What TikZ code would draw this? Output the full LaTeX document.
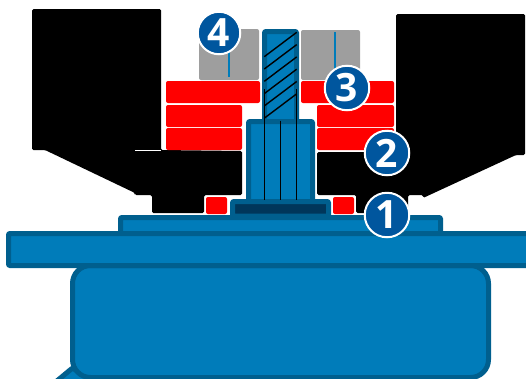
\documentclass[tikz,border=0pt]{standalone}
\usepackage{fontspec}
\setmainfont{Open Sans}
\definecolor{bluefill}{HTML}{007CBA}
\definecolor{blueedge}{HTML}{005F8E}
\definecolor{bluedark}{HTML}{00365A}
\definecolor{badgeblue}{HTML}{00569E}
\definecolor{greyblock}{HTML}{9E9E9E}
\definecolor{redblock}{HTML}{FF0000}
\tikzset{
  part/.style={draw=blueedge,fill=bluefill,line width=5pt,line join=round,rounded corners=1pt},
  blackpart/.style={fill=black,rounded corners=1.5pt},
  redpart/.style={fill=redblock,rounded corners=2pt},
  greypart/.style={fill=greyblock,rounded corners=2pt},
  inkline/.style={draw=black,line width=1.4pt},
  badge/.style={circle,draw=white,line width=2pt,fill=badgeblue,text=white,inner sep=0pt,font=\fontsize{39}{39}\bfseries\selectfont},
}
\begin{document}
\begin{tikzpicture}[x=1pt,y=-1pt]
\useasboundingbox (0,0) rectangle (526,378);
\clip (0,0) rectangle (526,378);
% clamps
\path[blackpart] (32,9) -- (161,9) -- (161,150) -- (242,151) -- (242,195) -- (204,195) -- (204,213) -- (152,213) -- (152,195) -- (135,195) -- (135,193) -- (45,150) -- (32,150) -- cycle;
\path[blackpart] (396,14) -- (525,14) -- (525,155) -- (516,155) -- (423,198) -- (423,195) -- (408,195) -- (408,213) -- (356,213) -- (356,195) -- (317,195) -- (317,152) -- (396,152) -- cycle;
\draw[white,line width=.6pt] (135,150.3) -- (161,150.3);
% grey blocks
\path[greypart] (199,29) rectangle (259,80);
\path[greypart] (301,30) rectangle (360,80);
\draw[bluefill,line width=1.2pt] (229,32) -- (229,77);
\draw[bluefill,line width=1.2pt] (335,32) -- (335,78);
% red blocks
\path[redpart] (166,81) rectangle (260,103);
\path[redpart] (166,105) rectangle (242,127);
\path[redpart] (166,128) rectangle (242,150);
\path[redpart] (301,81) rectangle (394,103);
\path[redpart] (317,105) rectangle (394,127);
\path[redpart] (317,128) rectangle (394,150);
\path[redpart] (206,197) rectangle (227,214);
\path[redpart] (333,197) rectangle (354,214);
% lower body
\draw[part] (52,385) -- (72.5,368) -- (100,385) -- cycle;
\draw[part,rounded corners=18pt] (72.5,265.5) rectangle (488.5,377.5);
\draw[part] (120.5,217.5) rectangle (440.5,240);
\draw[part] (8.5,233.5) rectangle (540,265.5);
% screw
\draw[part] (264.5,31.5) rectangle (296.5,125);
\draw[part] (248.5,121.5) rectangle (312.5,205);
\draw[part,fill=bluedark] (232.5,201.5) rectangle (328.5,216);
% threads
\foreach \k in {0,1,2,3,4,5}
  \draw[inkline] (264.3,56.7+12.3*\k) -- (296.7,32.3+12.3*\k);
\draw[inkline] (264.3,89) -- (264.3,200);
\draw[inkline] (296.3,89) -- (296.3,200);
\draw[inkline] (280.3,120.5) -- (280.3,200);
% badges
\node[badge,minimum size=42.5pt] (b4) at (219,33) {4};
\node[badge,minimum size=44.5pt] (b3) at (347,88) {3};
\node[badge,minimum size=44.5pt] (b2) at (387,153) {2};
\node[badge,minimum size=44.5pt] (b1) at (387,215) {1};
\end{tikzpicture}
\end{document}
